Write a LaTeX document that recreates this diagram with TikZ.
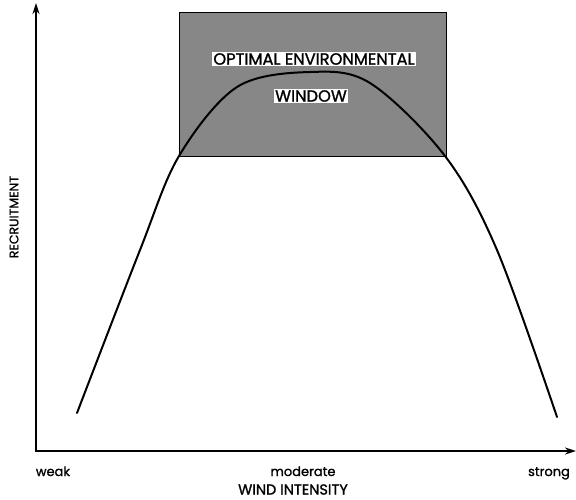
\documentclass[tikz,border=0pt]{standalone}
\usepackage{fontspec}
\setmainfont{Poppins}[FakeBold=1.2]
\usetikzlibrary{arrows.meta}
\begin{document}
\begin{tikzpicture}[x=1pt,y=-1pt,
  axis/.style={line width=1.8pt,{Stealth[length=11pt,width=7pt]}-{Stealth[length=11pt,width=7pt]}},
  curve/.style={line width=2pt,line cap=round},
  winlabel/.style={fill=white,inner xsep=1.5pt,inner ysep=1pt,font=\fontsize{16.3}{17}\selectfont},
  axlabel/.style={font=\fontsize{13}{14}\selectfont}]
\useasboundingbox (0,0) rectangle (576,499);
\coordinate (ytop) at (36,3);
\coordinate (o) at (36,451);
\coordinate (xend) at (576,451);
\node[draw=black,line width=0.8pt,fill=black!47,minimum width=267pt,minimum height=144pt,inner sep=0pt] (box) at (312.5,84.5) {};
\draw[curve] plot[smooth,tension=0.55] coordinates {(77,413) (140,250) (179,156) (237,87) (310,72) (370,83) (445,156) (497,250) (557,417)};
\draw[axis] (ytop) -- (o) -- (xend);
\node[winlabel] (opt) at (314,59) {OPTIMAL ENVIRONMENTAL};
\node[winlabel] (win) at (311,96) {WINDOW};
\node[axlabel,anchor=base] (weak) at (53,476) {weak};
\node[axlabel,anchor=base] (mod) at (303,476) {moderate};
\node[axlabel,anchor=base] (strong) at (549,476) {strong};
\node[axlabel,font=\fontsize{14.5}{15}\selectfont] (wind) at (293,489.5) {WIND INTENSITY};
\node[axlabel,rotate=90,font=\fontsize{12.5}{14}\selectfont] (rec) at (14,217) {RECRUITMENT};
\end{tikzpicture}
\end{document}
